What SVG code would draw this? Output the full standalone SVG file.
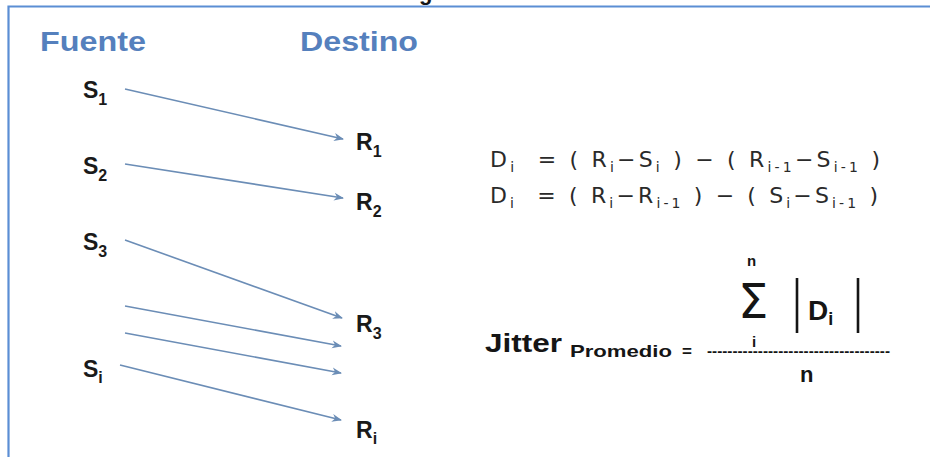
<svg xmlns="http://www.w3.org/2000/svg" width="930" height="457" viewBox="0 0 930 457">
<style>
.hdr{font-family:"Liberation Sans",Arial,sans-serif;font-weight:bold;font-size:27px;fill:#5580bd}
.lbl{font-family:"Liberation Sans",Arial,sans-serif;font-weight:bold;font-size:23px;fill:#1a1a1a}
.lbl .sb{font-size:16px}
.f{font-family:"DejaVu Sans",Verdana,sans-serif;font-size:22px;fill:#2a2a2a}
.f .sb{font-size:14px}
.b{font-family:"Liberation Sans",Arial,sans-serif;font-weight:bold;fill:#151515}
.conn line{stroke:#6b8db6;stroke-width:1.6;marker-end:url(#ah)}
.frame{stroke:#5b8ed4;stroke-width:2.2;fill:none}
</style>
<defs>
<marker id="ah" viewBox="0 0 10 10" refX="9" refY="5" markerWidth="10" markerHeight="10" markerUnits="userSpaceOnUse" orient="auto">
<path d="M0,1 L10,5 L0,9 L3,5 Z" fill="#6b8db6"/>
</marker>
</defs>
<rect width="930" height="457" fill="#ffffff"/>
<path class="frame" d="M8.5,457 L8.5,6.5 L930,6.5"/>
<text class="b" x="419" y="0" font-size="22">g</text>

<g id="hdr-fuente"><text class="hdr" x="40" y="51" textLength="106" lengthAdjust="spacingAndGlyphs">Fuente</text></g>
<g id="hdr-destino"><text class="hdr" x="300" y="51" textLength="118" lengthAdjust="spacingAndGlyphs">Destino</text></g>

<g id="S1"><text class="lbl" x="83" y="98">S<tspan class="sb" dy="7">1</tspan></text></g>
<g id="S2"><text class="lbl" x="83" y="174">S<tspan class="sb" dy="7">2</tspan></text></g>
<g id="S3"><text class="lbl" x="83" y="250">S<tspan class="sb" dy="7">3</tspan></text></g>
<g id="Si"><text class="lbl" x="83" y="377">S<tspan class="sb" dy="6">i</tspan></text></g>

<g id="R1"><text class="lbl" x="356" y="150">R<tspan class="sb" dy="7">1</tspan></text></g>
<g id="R2"><text class="lbl" x="356" y="210">R<tspan class="sb" dy="7">2</tspan></text></g>
<g id="R3"><text class="lbl" x="356" y="332">R<tspan class="sb" dy="7">3</tspan></text></g>
<g id="Ri"><text class="lbl" x="356" y="438">R<tspan class="sb" dy="6">i</tspan></text></g>

<g id="connectors" class="conn">
<line x1="125" y1="89" x2="343" y2="139"/>
<line x1="125" y1="164" x2="343" y2="198"/>
<line x1="125" y1="240" x2="342" y2="318"/>
<line x1="125" y1="306" x2="341" y2="346"/>
<line x1="125" y1="333" x2="341" y2="373"/>
<line x1="120" y1="365" x2="341" y2="420"/>
</g>

<g id="formula1"><text class="f" x="490" y="167" textLength="390" lengthAdjust="spacing">D<tspan class="sb" dy="5">i</tspan><tspan dy="-5">&#160; = ( R</tspan><tspan class="sb" dy="5">i</tspan><tspan dy="-5">−S</tspan><tspan class="sb" dy="5">i</tspan><tspan dy="-5"> ) − ( R</tspan><tspan class="sb" dy="5">i-1</tspan><tspan dy="-5">−S</tspan><tspan class="sb" dy="5">i-1</tspan><tspan dy="-5"> )</tspan></text></g>
<g id="formula2"><text class="f" x="490" y="203" textLength="388" lengthAdjust="spacing">D<tspan class="sb" dy="5">i</tspan><tspan dy="-5">&#160; = ( R</tspan><tspan class="sb" dy="5">i</tspan><tspan dy="-5">−R</tspan><tspan class="sb" dy="5">i-1</tspan><tspan dy="-5"> ) − ( S</tspan><tspan class="sb" dy="5">i</tspan><tspan dy="-5">−S</tspan><tspan class="sb" dy="5">i-1</tspan><tspan dy="-5"> )</tspan></text></g>

<g id="jitter">
<text class="b" x="485" y="352" font-size="26" textLength="77" lengthAdjust="spacingAndGlyphs">Jitter</text>
<text class="b" x="570" y="357" font-size="17" textLength="102" lengthAdjust="spacingAndGlyphs">Promedio</text>
<text class="b" x="682" y="357" font-size="17">=</text>
<text class="b" x="707" y="356" font-size="15" textLength="183" lengthAdjust="spacingAndGlyphs">------------------------------------</text>
<text class="b" x="747" y="266" font-size="15">n</text>
<text x="738" y="318" font-family="DejaVu Sans, sans-serif" font-size="48" fill="#151515">Σ</text>
<text class="b" x="752" y="347" font-size="15">i</text>
<line x1="797" y1="278" x2="797" y2="333" stroke="#151515" stroke-width="2.6"/>
<line x1="858" y1="278" x2="858" y2="333" stroke="#151515" stroke-width="2.6"/>
<text class="b" x="808" y="320" font-size="28">D<tspan font-size="18" dy="5">i</tspan></text>
<text class="b" x="800" y="382" font-size="22">n</text>
</g>
</svg>
